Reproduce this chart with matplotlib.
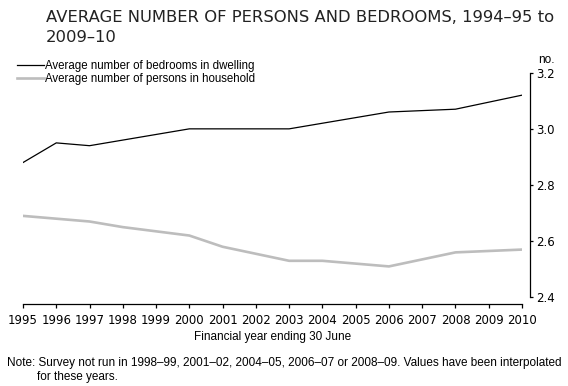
import matplotlib
matplotlib.use("Agg")
import matplotlib.pyplot as plt

years = list(range(1995, 2011))
bedrooms = [2.88, 2.95, 2.94, 2.96, 2.98, 3.00, 3.00, 3.00, 3.00, 3.02, 3.04, 3.06, 3.065, 3.07, 3.095, 3.12]
persons = [2.69, 2.68, 2.67, 2.65, 2.635, 2.62, 2.58, 2.555, 2.53, 2.53, 2.52, 2.51, 2.535, 2.56, 2.565, 2.57]
yticks = [2.4, 2.6, 2.8, 3.0, 3.2]

NARROW = ['Liberation Sans Narrow', 'Liberation Sans', 'DejaVu Sans']

W, H = 568, 386
fig = plt.figure(figsize=(W / 100, H / 100), dpi=100)
ax = fig.add_axes([23 / W, 1 - 297.3 / H, (522 - 23) / W, (297.3 - 72.7) / H])

ax.plot(years, bedrooms, color='black', lw=0.9, label='Average number of bedrooms in dwelling')
ax.plot(years, persons, color='#bdbdbd', lw=1.9, label='Average number of persons in household')

ax.set_xlim(1995, 2010)
ax.set_ylim(2.4, 3.2)
ax.set_xticks(years)
ax.set_yticks(yticks)
ax.set_yticklabels([f"{v:.1f}" for v in yticks])

for s in ['top', 'left']:
    ax.spines[s].set_visible(False)
ax.spines['right'].set_position(('outward', 5.8))
ax.spines['bottom'].set_position(('outward', 4.8))
ax.spines['right'].set_bounds(2.4, 3.2)
ax.spines['bottom'].set_bounds(1995, 2010)
for s in ['right', 'bottom']:
    ax.spines[s].set_linewidth(0.9)

ax.yaxis.tick_right()
ax.tick_params(axis='y', direction='out', length=2.5, width=0.9, pad=2, labelsize=8.5)
ax.tick_params(axis='x', direction='out', length=3, width=0.9, pad=4, labelsize=8.5)

ax.set_xlabel('Financial year ending 30 June', family=NARROW, fontsize=8.5, labelpad=3)

fig.text(538 / W, 1 - 60 / H, 'no.', family=NARROW, fontsize=8.5, ha='left', va='center')

fig.text(46 / W, 1 - 10 / H, 'AVERAGE NUMBER OF PERSONS AND BEDROOMS, 1994\u201395 to\n2009\u201310',
         fontsize=11.8, ha='left', va='top', linespacing=1.4, color='#222222')

ax.legend(loc='upper left', bbox_to_anchor=(17 / W, 1 - 60.5 / H), bbox_transform=fig.transFigure,
          frameon=False, prop={'family': NARROW, 'size': 8.3}, handlelength=2.3, handletextpad=0.1,
          labelspacing=0.05, borderaxespad=0, borderpad=0)

fig.text(7 / W, 1 - 363 / H,
         'Note: Survey not run in 1998\u201399, 2001\u201302, 2004\u201305, 2006\u201307 or 2008\u201309. Values have been interpolated',
         family=NARROW, fontsize=8.45, ha='left', va='center')
fig.text(37 / W, 1 - 377 / H, 'for these years.', family=NARROW, fontsize=8.45, ha='left', va='center')

fig.savefig('out.png', dpi=100)
